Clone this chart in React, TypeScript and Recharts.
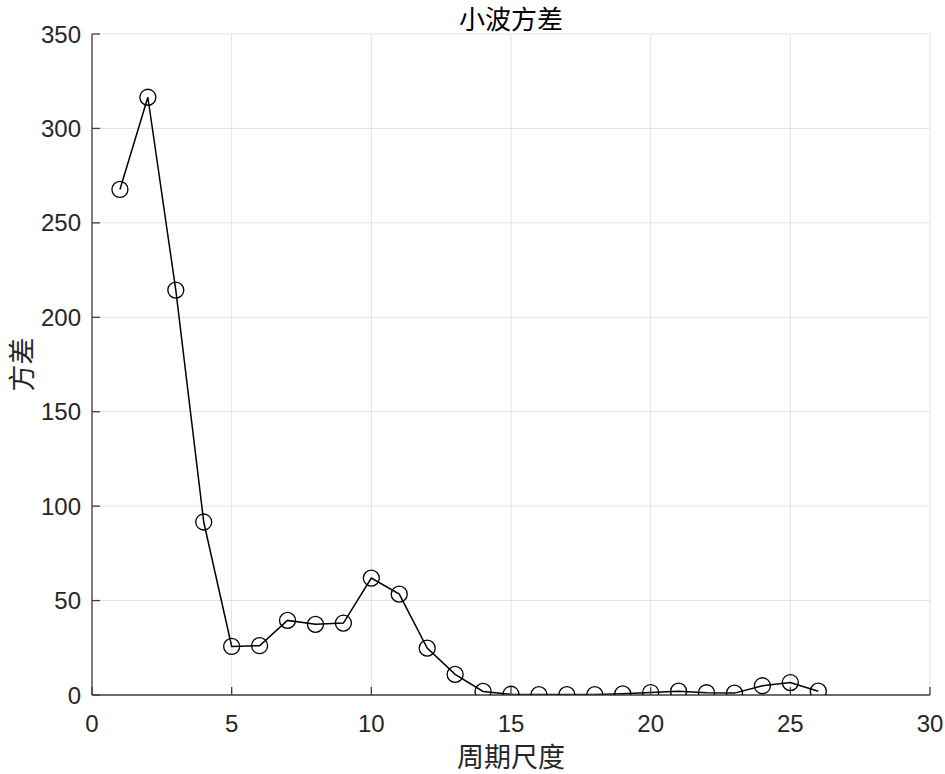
import React from 'react';
import { LineChart, Line, XAxis, YAxis, CartesianGrid } from 'recharts';

const scales = [1, 2, 3, 4, 5, 6, 7, 8, 9, 10, 11, 12, 13, 14, 15, 16, 17, 18, 19, 20, 21, 22, 23, 24, 25, 26];
const variances = [267.7, 316.5, 214.4, 91.6, 25.7, 26.1, 39.5, 37.4, 38.1, 61.9, 53.4, 24.8, 10.9, 1.9, 0.4, 0.2, 0.2, 0.2, 0.6, 1.3, 2.0, 1.2, 1.0, 4.9, 6.6, 2.0];
const xTicks = [0, 5, 10, 15, 20, 25, 30];
const yTicks = [0, 50, 100, 150, 200, 250, 300, 350];
const titleText = '小波方差';
const xLabelText = '周期尺度';
const yLabelText = '方差';

const data = scales.map((s, i) => ({ scale: s, variance: variances[i] }));

const CJK = '"Noto Sans CJK SC", "Noto Sans CJK JP", sans-serif';
const NUM = '"Liberation Sans", Arial, Helvetica, sans-serif';
const AX = '#404040';

const XLabel = (props: any) => {
  const vb = props.viewBox || {};
  return (
    <text x={vb.x + vb.width / 2} y={vb.y + 60} textAnchor="middle" dominantBaseline="central"
      fontFamily={CJK} fontSize={27} fill="#262626">{xLabelText}</text>
  );
};

const YLabel = (props: any) => {
  const vb = props.viewBox || {};
  const cx = vb.x + 20;
  const cy = vb.y + vb.height / 2;
  return (
    <text x={cx} y={cy} textAnchor="middle" dominantBaseline="central" transform={`rotate(-90, ${cx}, ${cy})`}
      fontFamily={CJK} fontSize={27} fill="#262626">{yLabelText}</text>
  );
};

export default function App() {
  return (
    <div style={{ position: 'absolute', left: 0, top: 0, width: 945, height: 774, background: '#fff' }}>
      <div style={{ position: 'absolute', left: 92, top: 0, width: 838, height: 36, lineHeight: '36px',
        textAlign: 'center', fontFamily: CJK, fontSize: 26, color: '#000', whiteSpace: 'nowrap' }}>{titleText}</div>
      <LineChart width={945} height={774} data={data} margin={{ top: 34, right: 15, left: 0, bottom: 0 }}>
        <CartesianGrid stroke="#e2e2e2" strokeWidth={1} />
        <XAxis dataKey="scale" type="number" domain={[0, 30]} ticks={xTicks} height={79}
          tickSize={-8} tickMargin={28} stroke={AX} strokeWidth={1.3}
          tick={{ fontFamily: NUM, fontSize: 24, fill: '#262626' }}
          label={<XLabel />} allowDataOverflow />
        <XAxis xAxisId="top" orientation="top" type="number" domain={[0, 30]} ticks={xTicks} height={0}
          tickSize={-8} tick={false} stroke={AX} strokeWidth={1.3} allowDataOverflow />
        <YAxis type="number" domain={[0, 350]} ticks={yTicks} width={92}
          tickSize={-8} tickMargin={19} stroke={AX} strokeWidth={1.3}
          tick={{ fontFamily: NUM, fontSize: 24, fill: '#262626' }}
          label={<YLabel />} allowDataOverflow />
        <YAxis yAxisId="right" orientation="right" type="number" domain={[0, 350]} ticks={yTicks} width={0}
          tickSize={-8} tick={false} stroke={AX} strokeWidth={1.3} allowDataOverflow />
        <Line type="linear" dataKey="variance" stroke="#000" strokeWidth={1.5}
          dot={{ r: 8, stroke: '#000', strokeWidth: 1.3, fill: 'none' }}
          activeDot={false} isAnimationActive={false} />
      </LineChart>
    </div>
  );
}
